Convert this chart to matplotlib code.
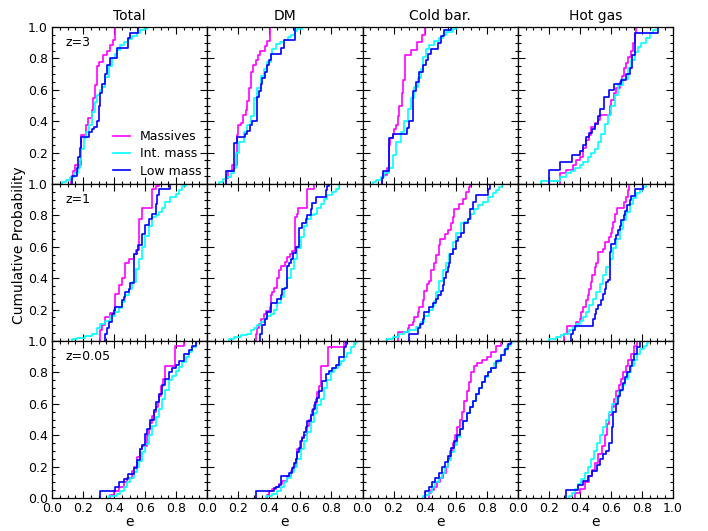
import matplotlib
matplotlib.use("Agg")
import matplotlib.pyplot as plt
from matplotlib.ticker import MultipleLocator, FixedLocator
import numpy as np

# ---------------- data: step knots (e value, cumulative fraction) ----------------
COLUMNS = ["Total", "DM", "Cold bar.", "Hot gas"]
REDSHIFTS = ["z=3", "z=1", "z=0.05"]
GROUPS = ["Massives", "Int. mass", "Low mass"]
COLORS = ["#ff00ff", "#00ffff", "#0000ff"]

# z=3, Total
TOT_Z3_MAS_E = [0.12, 0.135, 0.15, 0.19, 0.219, 0.234, 0.256, 0.266, 0.277, 0.288, 0.303, 0.327, 0.357, 0.374, 0.391, 0.406]
TOT_Z3_MAS_P = [0.04, 0.08, 0.12, 0.31, 0.376, 0.418, 0.47, 0.55, 0.63, 0.75, 0.78, 0.82, 0.85, 0.885, 0.917, 1.0]
TOT_Z3_INT_E = [0.062, 0.09, 0.116, 0.14, 0.165, 0.18, 0.19, 0.204, 0.22, 0.237, 0.258, 0.275, 0.29, 0.31, 0.323, 0.344, 0.366, 0.387, 0.405, 0.419, 0.441, 0.462, 0.49, 0.516, 0.545, 0.57, 0.59, 0.613]
TOT_Z3_INT_P = [0.01, 0.025, 0.045, 0.07, 0.10, 0.15, 0.22, 0.29, 0.33, 0.376, 0.46, 0.52, 0.567, 0.60, 0.62, 0.68, 0.75, 0.80, 0.83, 0.853, 0.885, 0.907, 0.925, 0.94, 0.96, 0.98, 0.99, 1.0]
TOT_Z3_LOW_E = [0.127, 0.163, 0.17, 0.18, 0.186, 0.241, 0.255, 0.271, 0.288, 0.30, 0.31, 0.32, 0.342, 0.357, 0.374, 0.417, 0.492, 0.503, 0.557]
TOT_Z3_LOW_P = [0.05, 0.10, 0.17, 0.23, 0.30, 0.333, 0.35, 0.365, 0.40, 0.50, 0.58, 0.64, 0.70, 0.76, 0.80, 0.864, 0.93, 0.96, 1.0]

# z=3, DM
DM_Z3_MAS_E = [0.123, 0.133, 0.161, 0.189, 0.2, 0.215, 0.23, 0.247, 0.258, 0.269, 0.28, 0.295, 0.312, 0.327, 0.338, 0.37, 0.387, 0.402]
DM_Z3_MAS_P = [0.036, 0.08, 0.12, 0.31, 0.376, 0.39, 0.44, 0.47, 0.53, 0.61, 0.715, 0.76, 0.79, 0.82, 0.85, 0.88, 0.91, 1.0]
DM_Z3_INT_E = [0.075, 0.10, 0.12, 0.15, 0.172, 0.183, 0.204, 0.237, 0.258, 0.28, 0.30, 0.323, 0.344, 0.366, 0.387, 0.409, 0.42, 0.44, 0.47, 0.495, 0.52, 0.54, 0.565, 0.58, 0.613]
DM_Z3_INT_P = [0.01, 0.03, 0.047, 0.07, 0.10, 0.20, 0.27, 0.33, 0.376, 0.43, 0.55, 0.61, 0.69, 0.73, 0.78, 0.83, 0.86, 0.89, 0.905, 0.92, 0.935, 0.95, 0.975, 0.99, 1.0]
DM_Z3_LOW_E = [0.123, 0.172, 0.189, 0.243, 0.258, 0.273, 0.29, 0.323, 0.333, 0.344, 0.355, 0.37, 0.387, 0.398, 0.409, 0.477, 0.495, 0.563]
DM_Z3_LOW_P = [0.08, 0.26, 0.30, 0.32, 0.34, 0.376, 0.40, 0.556, 0.59, 0.64, 0.675, 0.715, 0.76, 0.79, 0.83, 0.864, 0.917, 1.0]

# z=3, Cold baryons
CB_Z3_MAS_E = [0.123, 0.133, 0.155, 0.168, 0.176, 0.194, 0.204, 0.215, 0.226, 0.237, 0.254, 0.262, 0.275, 0.312, 0.35, 0.383, 0.402]
CB_Z3_MAS_P = [0.036, 0.06, 0.10, 0.25, 0.29, 0.32, 0.35, 0.376, 0.43, 0.50, 0.58, 0.66, 0.82, 0.853, 0.907, 0.95, 1.0]
CB_Z3_INT_E = [0.065, 0.09, 0.118, 0.14, 0.172, 0.194, 0.215, 0.247, 0.269, 0.29, 0.312, 0.333, 0.355, 0.376, 0.387, 0.409, 0.43, 0.462, 0.495, 0.516, 0.538, 0.58, 0.60]
CB_Z3_INT_P = [0.01, 0.025, 0.047, 0.07, 0.10, 0.185, 0.27, 0.33, 0.40, 0.48, 0.55, 0.62, 0.675, 0.735, 0.81, 0.86, 0.885, 0.91, 0.93, 0.95, 0.97, 0.985, 1.0]
CB_Z3_LOW_E = [0.123, 0.133, 0.172, 0.194, 0.286, 0.301, 0.327, 0.344, 0.366, 0.387, 0.409, 0.419, 0.441, 0.484, 0.505, 0.527, 0.57]
CB_Z3_LOW_P = [0.036, 0.08, 0.29, 0.32, 0.355, 0.40, 0.59, 0.65, 0.715, 0.76, 0.79, 0.83, 0.86, 0.90, 0.94, 0.98, 1.0]

# z=3, Hot gas
HG_Z3_MAS_E = [0.275, 0.312, 0.355, 0.376, 0.398, 0.419, 0.441, 0.456, 0.473, 0.495, 0.516, 0.533, 0.591, 0.602, 0.619, 0.634, 0.656, 0.671, 0.684, 0.699, 0.71, 0.727, 0.742, 0.753, 0.763]
HG_Z3_MAS_P = [0.07, 0.09, 0.12, 0.15, 0.175, 0.23, 0.28, 0.31, 0.36, 0.39, 0.41, 0.44, 0.50, 0.535, 0.58, 0.61, 0.65, 0.69, 0.74, 0.77, 0.81, 0.85, 0.895, 0.96, 1.0]
HG_Z3_INT_E = [0.15, 0.27, 0.312, 0.344, 0.366, 0.398, 0.419, 0.452, 0.473, 0.495, 0.516, 0.538, 0.559, 0.581, 0.602, 0.624, 0.645, 0.677, 0.71, 0.731, 0.753, 0.774, 0.796, 0.828, 0.849, 0.871, 0.903]
HG_Z3_INT_P = [0.02, 0.047, 0.068, 0.08, 0.10, 0.12, 0.14, 0.17, 0.20, 0.22, 0.27, 0.32, 0.38, 0.44, 0.50, 0.57, 0.63, 0.67, 0.74, 0.79, 0.84, 0.875, 0.90, 0.93, 0.96, 0.98, 1.0]
HG_Z3_LOW_E = [0.204, 0.275, 0.348, 0.398, 0.419, 0.441, 0.458, 0.477, 0.499, 0.516, 0.533, 0.555, 0.585, 0.619, 0.667, 0.699, 0.72, 0.735, 0.753, 0.903]
HG_Z3_LOW_P = [0.09, 0.14, 0.185, 0.21, 0.25, 0.30, 0.325, 0.35, 0.38, 0.43, 0.48, 0.555, 0.60, 0.64, 0.66, 0.70, 0.74, 0.82, 0.96, 1.0]

# z=1, Total
TOT_Z1_MAS_E = [0.312, 0.323, 0.344, 0.376, 0.409, 0.43, 0.452, 0.469, 0.495, 0.527, 0.538, 0.559, 0.581, 0.645, 0.667, 0.688]
TOT_Z1_MAS_P = [0.07, 0.10, 0.15, 0.18, 0.30, 0.355, 0.40, 0.50, 0.52, 0.556, 0.58, 0.78, 0.85, 0.97, 0.985, 1.0]
TOT_Z1_INT_E = [0.129, 0.161, 0.215, 0.258, 0.29, 0.312, 0.344, 0.376, 0.409, 0.43, 0.452, 0.473, 0.495, 0.516, 0.538, 0.559, 0.581, 0.602, 0.624, 0.645, 0.667, 0.688, 0.71, 0.731, 0.763, 0.796, 0.817, 0.839, 0.86]
TOT_Z1_INT_P = [0.01, 0.02, 0.03, 0.047, 0.08, 0.11, 0.13, 0.16, 0.185, 0.21, 0.25, 0.29, 0.33, 0.376, 0.46, 0.52, 0.60, 0.67, 0.735, 0.79, 0.80, 0.82, 0.85, 0.885, 0.915, 0.935, 0.96, 0.99, 1.0]
TOT_Z1_LOW_E = [0.344, 0.355, 0.366, 0.387, 0.398, 0.409, 0.452, 0.462, 0.473, 0.495, 0.505, 0.527, 0.548, 0.555, 0.581, 0.602, 0.624, 0.645, 0.667, 0.677, 0.688, 0.763]
TOT_Z1_LOW_P = [0.047, 0.08, 0.12, 0.175, 0.20, 0.215, 0.26, 0.28, 0.31, 0.33, 0.37, 0.556, 0.58, 0.61, 0.68, 0.737, 0.78, 0.81, 0.875, 0.93, 0.97, 1.0]

# z=1, DM
DM_Z1_MAS_E = [0.312, 0.318, 0.333, 0.344, 0.366, 0.376, 0.404, 0.409, 0.419, 0.43, 0.452, 0.462, 0.473, 0.499, 0.516, 0.533, 0.548, 0.563, 0.58, 0.585, 0.645, 0.688]
DM_Z1_MAS_P = [0.047, 0.08, 0.11, 0.14, 0.17, 0.19, 0.217, 0.29, 0.31, 0.335, 0.40, 0.45, 0.48, 0.505, 0.535, 0.556, 0.575, 0.79, 0.81, 0.85, 0.97, 1.0]
DM_Z1_INT_E = [0.14, 0.172, 0.215, 0.258, 0.28, 0.301, 0.323, 0.344, 0.366, 0.387, 0.409, 0.43, 0.452, 0.473, 0.495, 0.516, 0.538, 0.559, 0.581, 0.602, 0.624, 0.645, 0.667, 0.688, 0.71, 0.731, 0.753, 0.774, 0.806, 0.828, 0.849]
DM_Z1_INT_P = [0.015, 0.025, 0.036, 0.047, 0.068, 0.08, 0.10, 0.12, 0.14, 0.16, 0.175, 0.195, 0.24, 0.28, 0.335, 0.40, 0.46, 0.525, 0.59, 0.665, 0.73, 0.78, 0.80, 0.81, 0.845, 0.875, 0.907, 0.93, 0.95, 0.97, 1.0]
DM_Z1_LOW_E = [0.34, 0.355, 0.37, 0.383, 0.409, 0.452, 0.473, 0.484, 0.499, 0.516, 0.527, 0.538, 0.555, 0.57, 0.591, 0.613, 0.634, 0.645, 0.667, 0.677, 0.699, 0.763, 0.774, 0.785]
DM_Z1_LOW_P = [0.047, 0.10, 0.14, 0.185, 0.24, 0.27, 0.29, 0.33, 0.34, 0.48, 0.50, 0.52, 0.56, 0.60, 0.72, 0.75, 0.78, 0.80, 0.84, 0.88, 0.917, 0.96, 0.99, 1.0]

# z=1, Cold baryons
CB_Z1_MAS_E = [0.226, 0.29, 0.301, 0.323, 0.333, 0.355, 0.366, 0.387, 0.398, 0.413, 0.43, 0.441, 0.458, 0.473, 0.49, 0.499, 0.533, 0.548, 0.57, 0.581, 0.591, 0.624, 0.645, 0.667, 0.684, 0.692]
CB_Z1_MAS_P = [0.057, 0.08, 0.10, 0.12, 0.15, 0.185, 0.215, 0.26, 0.32, 0.365, 0.385, 0.45, 0.50, 0.55, 0.61, 0.65, 0.68, 0.71, 0.75, 0.79, 0.84, 0.875, 0.907, 0.95, 0.98, 1.0]
CB_Z1_INT_E = [0.161, 0.194, 0.237, 0.269, 0.301, 0.344, 0.376, 0.398, 0.43, 0.452, 0.462, 0.473, 0.495, 0.516, 0.538, 0.559, 0.581, 0.602, 0.634, 0.656, 0.677, 0.699, 0.72, 0.742, 0.774, 0.806, 0.839, 0.86, 0.882, 0.9]
CB_Z1_INT_P = [0.015, 0.025, 0.047, 0.057, 0.068, 0.09, 0.12, 0.16, 0.195, 0.225, 0.255, 0.31, 0.385, 0.45, 0.50, 0.556, 0.63, 0.69, 0.75, 0.76, 0.78, 0.81, 0.84, 0.865, 0.885, 0.915, 0.94, 0.96, 0.98, 1.0]
CB_Z1_LOW_E = [0.301, 0.355, 0.37, 0.387, 0.398, 0.43, 0.452, 0.473, 0.484, 0.505, 0.516, 0.527, 0.538, 0.548, 0.559, 0.563, 0.581, 0.602, 0.613, 0.634, 0.656, 0.677, 0.692, 0.71, 0.731, 0.806, 0.821]
CB_Z1_LOW_P = [0.047, 0.08, 0.11, 0.14, 0.185, 0.217, 0.24, 0.27, 0.29, 0.32, 0.355, 0.40, 0.44, 0.47, 0.50, 0.555, 0.585, 0.64, 0.66, 0.69, 0.75, 0.78, 0.84, 0.885, 0.93, 0.97, 1.0]

# z=1, Hot gas
HG_Z1_MAS_E = [0.301, 0.318, 0.376, 0.398, 0.409, 0.419, 0.437, 0.452, 0.458, 0.469, 0.477, 0.495, 0.505, 0.516, 0.52, 0.548, 0.563, 0.585, 0.598, 0.606, 0.613, 0.624, 0.641, 0.684, 0.699, 0.71, 0.716]
HG_Z1_MAS_P = [0.047, 0.093, 0.12, 0.14, 0.185, 0.215, 0.26, 0.29, 0.33, 0.375, 0.42, 0.47, 0.50, 0.52, 0.567, 0.587, 0.63, 0.66, 0.69, 0.72, 0.76, 0.81, 0.847, 0.885, 0.917, 0.96, 1.0]
HG_Z1_INT_E = [0.204, 0.247, 0.28, 0.301, 0.333, 0.355, 0.376, 0.398, 0.419, 0.441, 0.462, 0.484, 0.505, 0.527, 0.548, 0.57, 0.591, 0.613, 0.634, 0.656, 0.677, 0.699, 0.72, 0.742, 0.763, 0.785, 0.806, 0.828]
HG_Z1_INT_P = [0.015, 0.025, 0.036, 0.047, 0.068, 0.09, 0.11, 0.13, 0.15, 0.185, 0.23, 0.27, 0.31, 0.365, 0.42, 0.47, 0.525, 0.59, 0.65, 0.715, 0.77, 0.82, 0.875, 0.91, 0.94, 0.96, 0.98, 1.0]
HG_Z1_LOW_E = [0.34, 0.355, 0.37, 0.484, 0.495, 0.505, 0.516, 0.538, 0.548, 0.559, 0.57, 0.581, 0.591, 0.602, 0.624, 0.634, 0.645, 0.656, 0.667, 0.684, 0.692, 0.705, 0.72, 0.731, 0.753, 0.806]
HG_Z1_LOW_P = [0.047, 0.07, 0.093, 0.14, 0.175, 0.205, 0.23, 0.26, 0.30, 0.33, 0.375, 0.387, 0.567, 0.62, 0.65, 0.675, 0.705, 0.735, 0.77, 0.80, 0.83, 0.865, 0.895, 0.925, 0.97, 1.0]

# z=0.05, Total
TOT_Z0_MAS_E = [0.376, 0.40, 0.43, 0.462, 0.484, 0.516, 0.527, 0.548, 0.57, 0.581, 0.613, 0.624, 0.634, 0.645, 0.656, 0.667, 0.684, 0.692, 0.705, 0.716, 0.731, 0.791, 0.849]
TOT_Z0_MAS_P = [0.02, 0.047, 0.07, 0.10, 0.13, 0.175, 0.20, 0.26, 0.31, 0.33, 0.40, 0.44, 0.48, 0.52, 0.55, 0.58, 0.61, 0.65, 0.715, 0.76, 0.843, 0.97, 1.0]
TOT_Z0_INT_E = [0.366, 0.376, 0.419, 0.441, 0.462, 0.484, 0.505, 0.527, 0.548, 0.563, 0.581, 0.602, 0.624, 0.645, 0.667, 0.688, 0.71, 0.731, 0.753, 0.774, 0.796, 0.817, 0.839, 0.86, 0.882, 0.903, 0.925, 0.935]
TOT_Z0_INT_P = [0.01, 0.015, 0.025, 0.047, 0.068, 0.10, 0.13, 0.165, 0.195, 0.235, 0.29, 0.345, 0.40, 0.46, 0.515, 0.57, 0.63, 0.685, 0.75, 0.78, 0.81, 0.835, 0.865, 0.895, 0.93, 0.96, 0.99, 1.0]
TOT_Z0_LOW_E = [0.312, 0.409, 0.43, 0.462, 0.49, 0.527, 0.548, 0.57, 0.581, 0.60, 0.613, 0.634, 0.656, 0.667, 0.688, 0.71, 0.731, 0.753, 0.774, 0.796, 0.817, 0.849, 0.882, 0.903, 0.925]
TOT_Z0_LOW_P = [0.047, 0.07, 0.10, 0.12, 0.15, 0.19, 0.24, 0.31, 0.34, 0.41, 0.44, 0.50, 0.56, 0.61, 0.66, 0.72, 0.76, 0.80, 0.83, 0.85, 0.87, 0.917, 0.94, 0.97, 1.0]

# z=0.05, DM
DM_Z0_MAS_E = [0.387, 0.40, 0.419, 0.441, 0.462, 0.484, 0.516, 0.538, 0.555, 0.57, 0.581, 0.598, 0.613, 0.624, 0.645, 0.656, 0.667, 0.677, 0.688, 0.699, 0.71, 0.72, 0.731, 0.775, 0.88]
DM_Z0_MAS_P = [0.02, 0.047, 0.06, 0.07, 0.09, 0.11, 0.14, 0.175, 0.20, 0.25, 0.31, 0.36, 0.39, 0.40, 0.46, 0.50, 0.53, 0.56, 0.59, 0.63, 0.675, 0.715, 0.843, 0.96, 1.0]
DM_Z0_INT_E = [0.376, 0.387, 0.419, 0.452, 0.473, 0.495, 0.516, 0.538, 0.559, 0.581, 0.602, 0.624, 0.645, 0.667, 0.688, 0.71, 0.731, 0.753, 0.774, 0.796, 0.817, 0.839, 0.86, 0.882, 0.903, 0.925, 0.946, 0.957]
DM_Z0_INT_P = [0.01, 0.015, 0.025, 0.047, 0.068, 0.10, 0.13, 0.165, 0.195, 0.248, 0.31, 0.365, 0.42, 0.485, 0.54, 0.59, 0.63, 0.70, 0.75, 0.80, 0.83, 0.85, 0.875, 0.895, 0.925, 0.96, 0.99, 1.0]
DM_Z0_LOW_E = [0.312, 0.43, 0.441, 0.462, 0.477, 0.527, 0.548, 0.559, 0.57, 0.581, 0.591, 0.602, 0.613, 0.624, 0.634, 0.645, 0.667, 0.684, 0.692, 0.705, 0.72, 0.742, 0.763, 0.785, 0.806, 0.828, 0.849, 0.882, 0.892]
DM_Z0_LOW_P = [0.047, 0.064, 0.07, 0.08, 0.14, 0.16, 0.19, 0.22, 0.25, 0.29, 0.32, 0.36, 0.385, 0.42, 0.45, 0.49, 0.53, 0.57, 0.61, 0.64, 0.68, 0.745, 0.79, 0.81, 0.83, 0.85, 0.90, 0.96, 1.0]

# z=0.05, Cold baryons
CB_Z0_MAS_E = [0.426, 0.44, 0.46, 0.48, 0.50, 0.52, 0.535, 0.55, 0.565, 0.58, 0.595, 0.61, 0.625, 0.64, 0.655, 0.67, 0.685, 0.70, 0.72, 0.74, 0.77, 0.80, 0.83, 0.86, 0.89]
CB_Z0_MAS_P = [0.03, 0.05, 0.07, 0.10, 0.13, 0.16, 0.20, 0.25, 0.30, 0.35, 0.40, 0.45, 0.50, 0.55, 0.62, 0.68, 0.74, 0.80, 0.84, 0.86, 0.88, 0.90, 0.93, 0.97, 1.0]
CB_Z0_INT_E = [0.39, 0.41, 0.43, 0.45, 0.47, 0.49, 0.51, 0.53, 0.55, 0.57, 0.59, 0.61, 0.63, 0.65, 0.67, 0.69, 0.71, 0.73, 0.75, 0.77, 0.79, 0.81, 0.83, 0.85, 0.87, 0.89, 0.91, 0.93, 0.95, 0.965]
CB_Z0_INT_P = [0.01, 0.02, 0.04, 0.07, 0.10, 0.13, 0.16, 0.20, 0.24, 0.29, 0.34, 0.39, 0.44, 0.49, 0.54, 0.58, 0.62, 0.66, 0.70, 0.74, 0.77, 0.80, 0.83, 0.86, 0.88, 0.91, 0.94, 0.97, 0.99, 1.0]
CB_Z0_LOW_E = [0.40, 0.43, 0.45, 0.47, 0.49, 0.51, 0.53, 0.55, 0.57, 0.59, 0.61, 0.63, 0.65, 0.67, 0.69, 0.71, 0.73, 0.75, 0.77, 0.79, 0.81, 0.83, 0.86, 0.89, 0.92, 0.94, 0.955]
CB_Z0_LOW_P = [0.047, 0.07, 0.10, 0.13, 0.16, 0.20, 0.23, 0.27, 0.32, 0.36, 0.40, 0.44, 0.49, 0.54, 0.58, 0.62, 0.66, 0.70, 0.74, 0.78, 0.80, 0.83, 0.87, 0.91, 0.95, 0.98, 1.0]

# z=0.05, Hot gas
HG_Z0_MAS_E = [0.37, 0.40, 0.43, 0.46, 0.48, 0.50, 0.52, 0.54, 0.56, 0.575, 0.59, 0.605, 0.62, 0.635, 0.65, 0.665, 0.68, 0.695, 0.71, 0.73, 0.75, 0.77]
HG_Z0_MAS_P = [0.03, 0.06, 0.10, 0.14, 0.18, 0.22, 0.28, 0.33, 0.40, 0.47, 0.53, 0.58, 0.63, 0.68, 0.72, 0.76, 0.80, 0.84, 0.88, 0.92, 0.97, 1.0]
HG_Z0_INT_E = [0.33, 0.35, 0.37, 0.39, 0.41, 0.43, 0.45, 0.47, 0.49, 0.51, 0.53, 0.55, 0.57, 0.59, 0.61, 0.63, 0.65, 0.67, 0.69, 0.71, 0.73, 0.75, 0.77, 0.79, 0.81, 0.83, 0.84]
HG_Z0_INT_P = [0.01, 0.03, 0.06, 0.09, 0.12, 0.16, 0.20, 0.25, 0.30, 0.35, 0.40, 0.45, 0.50, 0.55, 0.60, 0.64, 0.68, 0.72, 0.76, 0.80, 0.84, 0.88, 0.92, 0.95, 0.97, 0.99, 1.0]
HG_Z0_LOW_E = [0.31, 0.39, 0.42, 0.45, 0.48, 0.51, 0.53, 0.55, 0.57, 0.59, 0.605, 0.615, 0.63, 0.645, 0.66, 0.675, 0.69, 0.705, 0.72, 0.735, 0.75, 0.765, 0.79]
HG_Z0_LOW_P = [0.05, 0.08, 0.11, 0.14, 0.17, 0.21, 0.25, 0.28, 0.30, 0.35, 0.45, 0.55, 0.60, 0.65, 0.69, 0.73, 0.77, 0.80, 0.84, 0.88, 0.92, 0.96, 1.0]

X_TICKS = [0.0, 0.2, 0.4, 0.6, 0.8, 1.0]
Y_TICKS = [0.0, 0.2, 0.4, 0.6, 0.8, 1.0]

PANELS = [
    [[(TOT_Z3_MAS_E, TOT_Z3_MAS_P), (TOT_Z3_INT_E, TOT_Z3_INT_P), (TOT_Z3_LOW_E, TOT_Z3_LOW_P)],
     [(DM_Z3_MAS_E, DM_Z3_MAS_P), (DM_Z3_INT_E, DM_Z3_INT_P), (DM_Z3_LOW_E, DM_Z3_LOW_P)],
     [(CB_Z3_MAS_E, CB_Z3_MAS_P), (CB_Z3_INT_E, CB_Z3_INT_P), (CB_Z3_LOW_E, CB_Z3_LOW_P)],
     [(HG_Z3_MAS_E, HG_Z3_MAS_P), (HG_Z3_INT_E, HG_Z3_INT_P), (HG_Z3_LOW_E, HG_Z3_LOW_P)]],
    [[(TOT_Z1_MAS_E, TOT_Z1_MAS_P), (TOT_Z1_INT_E, TOT_Z1_INT_P), (TOT_Z1_LOW_E, TOT_Z1_LOW_P)],
     [(DM_Z1_MAS_E, DM_Z1_MAS_P), (DM_Z1_INT_E, DM_Z1_INT_P), (DM_Z1_LOW_E, DM_Z1_LOW_P)],
     [(CB_Z1_MAS_E, CB_Z1_MAS_P), (CB_Z1_INT_E, CB_Z1_INT_P), (CB_Z1_LOW_E, CB_Z1_LOW_P)],
     [(HG_Z1_MAS_E, HG_Z1_MAS_P), (HG_Z1_INT_E, HG_Z1_INT_P), (HG_Z1_LOW_E, HG_Z1_LOW_P)]],
    [[(TOT_Z0_MAS_E, TOT_Z0_MAS_P), (TOT_Z0_INT_E, TOT_Z0_INT_P), (TOT_Z0_LOW_E, TOT_Z0_LOW_P)],
     [(DM_Z0_MAS_E, DM_Z0_MAS_P), (DM_Z0_INT_E, DM_Z0_INT_P), (DM_Z0_LOW_E, DM_Z0_LOW_P)],
     [(CB_Z0_MAS_E, CB_Z0_MAS_P), (CB_Z0_INT_E, CB_Z0_INT_P), (CB_Z0_LOW_E, CB_Z0_LOW_P)],
     [(HG_Z0_MAS_E, HG_Z0_MAS_P), (HG_Z0_INT_E, HG_Z0_INT_P), (HG_Z0_LOW_E, HG_Z0_LOW_P)]],
]

# ---------------- plotting ----------------
plt.rcParams['font.family'] = ['DejaVu Sans']
FS = 9

fig, axes = plt.subplots(3, 4, figsize=(7.08, 5.31), dpi=100)
fig.subplots_adjust(left=52/708, right=673/708, top=1-27/531, bottom=1-498/531,
                    wspace=0, hspace=0)

for r in range(3):
    for c in range(4):
        ax = axes[r, c]
        for g, (e, p) in enumerate(PANELS[r][c]):
            xs = np.concatenate([[e[0]], e])
            ys = np.concatenate([[0.0], p])
            ax.step(xs, ys, where='post', color=COLORS[g], lw=1.2, label=GROUPS[g])
        ax.set_xlim(0, 1)
        ax.set_ylim(0, 1)
        ax.xaxis.set_major_locator(FixedLocator(X_TICKS))
        ax.yaxis.set_major_locator(FixedLocator(Y_TICKS))
        ax.xaxis.set_minor_locator(MultipleLocator(0.05))
        ax.yaxis.set_minor_locator(MultipleLocator(0.05))
        ax.tick_params(which='both', direction='in', top=True, right=True,
                       labelsize=FS, width=0.8)
        ax.tick_params(which='major', length=5, pad=3)
        ax.tick_params(which='minor', length=2.5)
        for s in ax.spines.values():
            s.set_linewidth(0.9)
        if c == 0:
            labs = ["%.1f" % v for v in Y_TICKS]
            if r < 2:
                labs[0] = ""
            ax.set_yticklabels(labs)
        else:
            ax.set_yticklabels([])
        if r == 2:
            labs = ["%.1f" % v for v in X_TICKS]
            if c < 3:
                labs[-1] = ""
            ax.set_xticklabels(labs)
            ax.set_xlabel("e", fontsize=FS + 1, labelpad=0)
        else:
            ax.set_xticklabels([])
        if r == 0:
            ax.set_title(COLUMNS[c], fontsize=FS + 1, pad=5)
        if c == 0:
            ax.text(0.09, 0.9, REDSHIFTS[r], transform=ax.transAxes, fontsize=FS,
                    ha='left', va='center')

axes[0, 0].legend(loc='lower right', frameon=False, fontsize=FS, handlelength=1.3,
                  handletextpad=0.8, labelspacing=0.35, borderaxespad=0.1)
fig.text(19/708, 1 - 245/531, "Cumulative Probability", fontsize=FS + 1,
         rotation=90, ha='center', va='center')

fig.savefig("out.png", dpi=100)
